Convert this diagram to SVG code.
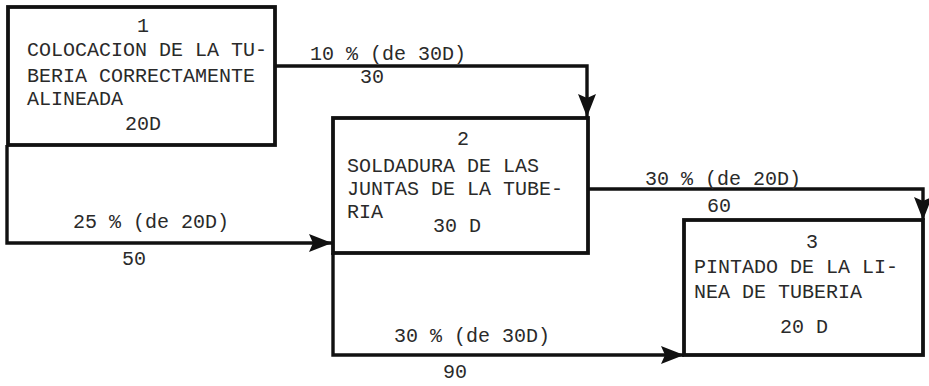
<svg xmlns="http://www.w3.org/2000/svg" width="929" height="386" viewBox="0 0 929 386">
<style>
.box{fill:#fff;stroke:#111;stroke-width:3.8}
.con{fill:none;stroke:#111;stroke-width:3.4;marker-end:url(#arr)}
text{font-family:"Liberation Mono","DejaVu Sans Mono",monospace;font-size:20px;fill:#2a2a2a}
</style>
<defs>
<marker id="arr" markerUnits="userSpaceOnUse" markerWidth="26" markerHeight="22" refX="23" refY="10" orient="auto">
<path d="M0,1 L23,10 L0,19 L4,10 Z" fill="#111"/>
</marker>
</defs>
<rect width="929" height="386" fill="#fff"/>
<g id="connectors">
<path class="con" d="M275,66 H587 V117"/>
<path class="con" d="M7,145 V243 H332"/>
<path class="con" d="M588,189 H923 V220"/>
<path class="con" d="M333,253 V355 H684"/>
</g>
<g id="node1">
<rect class="box" x="8" y="7" width="267" height="138"/>
<text x="143" y="32" text-anchor="middle">1</text>
<text x="27" y="56">COLOCACION DE LA TU-</text>
<text x="27" y="82">BERIA CORRECTAMENTE</text>
<text x="27" y="105">ALINEADA</text>
<text x="125" y="130">20D</text>
</g>
<g id="node2">
<rect class="box" x="333" y="118" width="255" height="135"/>
<text x="463" y="145" text-anchor="middle">2</text>
<text x="347" y="172">SOLDADURA DE LAS</text>
<text x="347" y="195">JUNTAS DE LA TUBE-</text>
<text x="347" y="218">RIA</text>
<text x="433" y="232">30 D</text>
</g>
<g id="node3">
<rect class="box" x="684" y="220" width="239" height="135"/>
<text x="812" y="248" text-anchor="middle">3</text>
<text x="694" y="273">PINTADO DE LA LI-</text>
<text x="694" y="298">NEA DE TUBERIA</text>
<text x="780" y="333">20 D</text>
</g>
<g id="labels">
<text x="310" y="60">10 % (de 30D)</text>
<text x="360" y="83">30</text>
<text x="73" y="228">25 % (de 20D)</text>
<text x="122" y="265">50</text>
<text x="645" y="185">30 % (de 20D)</text>
<text x="707" y="212">60</text>
<text x="394" y="342">30 % (de 30D)</text>
<text x="443" y="378">90</text>
</g>
</svg>
